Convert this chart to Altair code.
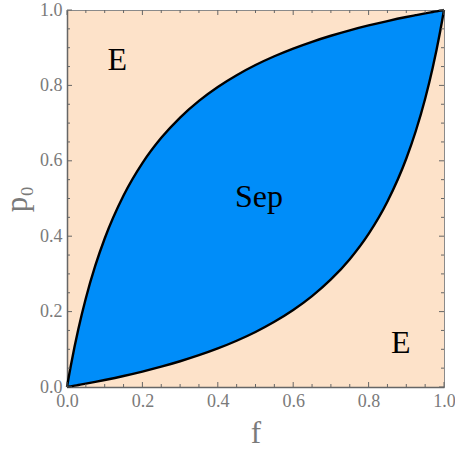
import altair as alt
import pandas as pd

# ---- data ----
f_vals = [0.0, 0.005, 0.01, 0.02, 0.03, 0.05, 0.075, 0.1, 0.15, 0.2, 0.25, 0.3, 0.35,
          0.4, 0.45, 0.5, 0.55, 0.6, 0.65, 0.7, 0.75, 0.8, 0.85, 0.9, 0.925, 0.95,
          0.97, 0.98, 0.99, 0.995, 1.0]
upper_p = [0.0, 0.0286, 0.0558, 0.1066, 0.1532, 0.2354, 0.3217, 0.3939, 0.5079, 0.5938,
           0.6609, 0.7148, 0.7590, 0.7959, 0.8271, 0.8540, 0.8773, 0.8977, 0.9157, 0.9317,
           0.9461, 0.9590, 0.9707, 0.9814, 0.9863, 0.9911, 0.9947, 0.9965, 0.9983, 0.9991, 1.0]
lower_p = [0.0, 0.0009, 0.0017, 0.0035, 0.0053, 0.0089, 0.0137, 0.0187, 0.0293, 0.0410,
           0.0539, 0.0683, 0.0843, 0.1023, 0.1227, 0.1460, 0.1729, 0.2041, 0.2410, 0.2852,
           0.3391, 0.4062, 0.4921, 0.6061, 0.6784, 0.7647, 0.8468, 0.8934, 0.9442, 0.9715, 1.0]

major_ticks = [0.0, 0.2, 0.4, 0.6, 0.8, 1.0]
minor_ticks = [0.05, 0.1, 0.15, 0.25, 0.3, 0.35, 0.45, 0.5, 0.55, 0.65, 0.7, 0.75,
               0.85, 0.9, 0.95]

region_labels = ["E", "Sep", "E"]
label_f = [0.133, 0.509, 0.885]
label_p = [0.841, 0.478, 0.091]

W, H = 377, 377
SERIF = "Liberation Serif"
GRAY = "#7a7a7a"

df = pd.DataFrame({"f": f_vals, "upper": upper_p, "lower": lower_p})
xs = alt.Scale(domain=[0, 1], nice=False, zero=False)
ys = alt.Scale(domain=[0, 1], nice=False, zero=False)

xaxis = alt.Axis(values=major_ticks, format=".1f", labelFlush=False, labelOverlap=False,
                 titlePadding=8)
yaxis = alt.Axis(values=major_ticks, format=".1f", labelFlush=False, labelOverlap=False,
                 titlePadding=6)

base = alt.Chart(df)
area = base.mark_area(color="#008DF9", opacity=1, interpolate="monotone").encode(
    x=alt.X("f:Q", scale=xs, axis=xaxis, title="f"),
    y=alt.Y("upper:Q", scale=ys, axis=yaxis, title="p₀"),
    y2="lower:Q",
)
up_line = base.mark_line(color="black", strokeWidth=2.4, interpolate="monotone").encode(
    x=alt.X("f:Q", title="f"), y=alt.Y("upper:Q", title="p₀"))
low_line = base.mark_line(color="black", strokeWidth=2.4, interpolate="monotone").encode(
    x=alt.X("f:Q", title="f"), y=alt.Y("lower:Q", title="p₀"))

major_df = pd.DataFrame({"t": major_ticks})
minor_df = pd.DataFrame({"t": minor_ticks})

def tick_layers(d, L):
    c = alt.Chart(d).mark_rule(color="#666666", strokeWidth=1)
    bottom = c.encode(x=alt.X("t:Q", title="f"), y=alt.value(H), y2=alt.value(H - L))
    top = c.encode(x=alt.X("t:Q", title="f"), y=alt.value(0), y2=alt.value(L))
    left = c.encode(y=alt.Y("t:Q", title="p₀"), x=alt.value(0), x2=alt.value(L))
    right = c.encode(y=alt.Y("t:Q", title="p₀"), x=alt.value(W), x2=alt.value(W - L))
    return [bottom, top, left, right]

lab_df = pd.DataFrame({"label": region_labels, "f": label_f, "p": label_p})
texts = alt.Chart(lab_df).mark_text(font=SERIF, fontSize=32, color="black",
                                    align="center", baseline="alphabetic").encode(
    x=alt.X("f:Q", title="f"), y=alt.Y("p:Q", title="p₀"), text="label:N")

chart = alt.layer(area, up_line, low_line, *tick_layers(major_df, 5),
                  *tick_layers(minor_df, 3), texts).properties(
    width=W, height=H,
    padding={"left": 67, "top": 10, "right": 11, "bottom": 69},
    autosize=alt.AutoSizeParams(type="none"),
).configure_view(
    fill="#FDE2C9", stroke="#8a8a8a", strokeWidth=1
).configure_axis(
    grid=False, ticks=False, domain=True, domainColor="#666666", domainWidth=1.5,
    labelFont=SERIF, labelFontSize=18, labelColor=GRAY, labelPadding=5,
    titleFont=SERIF, titleFontSize=31, titleColor=GRAY, titleFontWeight="normal",
)

chart.save("out.html", embed_options={"renderer": "svg", "actions": False})
